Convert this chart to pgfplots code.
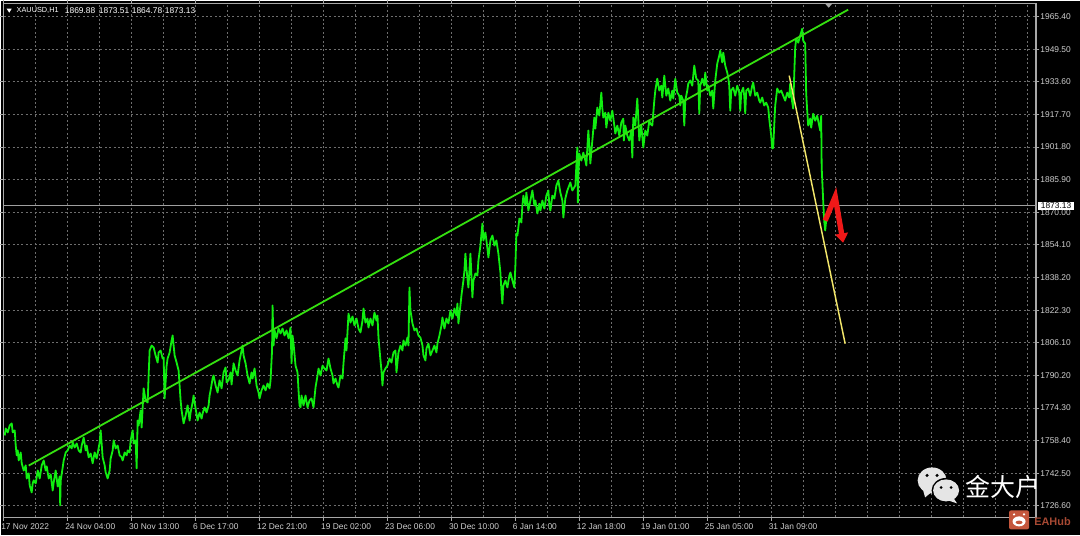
\documentclass[border=0pt]{standalone}
\usepackage{pgfplots}
\pgfplotsset{compat=1.18}
\usepackage{fontspec}
\setmainfont{Liberation Sans}
\newfontfamily\cjk{Noto Sans CJK SC}
\usetikzlibrary{arrows.meta}
\definecolor{price}{HTML}{10EE10}
\definecolor{trend}{HTML}{35E010}
\definecolor{yel}{HTML}{F2E66A}
\definecolor{arrowred}{HTML}{F01818}
\definecolor{gridc}{HTML}{6E6E6E}
\definecolor{frame}{HTML}{A8A8A8}
\definecolor{lab}{HTML}{CFCFCF}
\definecolor{hubred}{HTML}{C4563C}
\newcommand{\chartfont}{\fontsize{6.3}{7}\selectfont}
% hourly closes/swings: x is the bar number, y the price
\pgfplotstableread{
x y
2 1760.9
4 1764.3
8 1762.4
12 1765.8
16 1766.8
18 1762.4
22 1763.4
24 1756.0
26 1751.2
28 1753.6
30 1748.7
34 1752.6
36 1747.3
40 1743.8
44 1746.3
46 1739.9
50 1742.4
52 1736.5
56 1733.1
58 1737.5
60 1739.0
64 1737.5
68 1743.8
72 1739.9
76 1746.3
80 1748.7
84 1743.8
86 1745.8
90 1739.9
94 1741.9
98 1734.0
100 1738.0
104 1743.8
108 1736.0
112 1740.9
113 1726.8
114 1738.9
118 1745.3
120 1748.7
124 1752.6
128 1753.6
132 1756.0
136 1754.6
138 1757.5
142 1755.0
146 1757.0
150 1753.6
154 1752.6
156 1756.0
160 1759.9
164 1753.6
166 1756.0
170 1750.2
174 1752.1
178 1747.3
182 1752.6
186 1749.7
188 1752.1
192 1757.5
194 1763.4
198 1750.2
202 1746.3
204 1742.9
208 1739.9
212 1743.8
214 1749.7
218 1753.6
220 1758.5
224 1754.6
228 1756.0
232 1751.2
236 1750.2
238 1748.7
242 1752.6
246 1751.2
248 1753.6
252 1752.6
254 1758.5
258 1763.4
260 1757.0
264 1758.5
266 1744.8
268 1768.2
270 1765.8
274 1773.1
276 1764.8
280 1783.9
284 1778.0
288 1777.0
290 1790.2
292 1802.4
296 1804.8
300 1803.9
304 1799.9
308 1796.5
310 1801.4
314 1802.4
318 1798.5
320 1799.0
322 1779.0
326 1795.0
328 1798.5
332 1801.4
336 1807.3
338 1809.7
342 1800.0
346 1796.5
350 1792.6
354 1778.0
356 1773.1
360 1766.8
364 1770.7
368 1775.6
372 1768.2
374 1772.1
378 1777.0
380 1780.4
384 1774.1
388 1768.2
392 1772.1
396 1769.2
398 1771.6
402 1774.6
406 1772.1
410 1775.6
412 1780.4
414 1782.9
418 1788.7
420 1790.2
424 1785.3
428 1781.9
432 1787.8
436 1783.9
440 1791.7
444 1794.1
446 1786.8
450 1787.8
454 1791.7
456 1785.8
460 1796.1
464 1792.6
468 1790.2
472 1797.5
476 1802.4
478 1804.8
480 1800.0
484 1796.1
488 1790.2
492 1786.3
496 1791.7
498 1788.7
502 1793.6
506 1785.3
510 1781.9
512 1779.0
516 1782.9
520 1785.3
524 1782.9
528 1786.3
532 1783.9
534 1787.8
537 1802.4
538 1824.4
540 1804.8
542 1812.2
546 1808.3
550 1813.1
554 1810.7
558 1813.1
562 1809.7
566 1812.2
570 1808.3
574 1813.6
576 1796.1
578 1809.7
580 1805.8
584 1795.0
588 1791.7
590 1782.9
592 1775.6
594 1774.6
596 1780.4
600 1775.6
604 1780.4
608 1774.6
612 1778.0
616 1779.0
620 1774.6
624 1784.4
628 1790.2
630 1793.6
634 1790.2
638 1795.0
642 1793.6
646 1792.6
650 1798.5
654 1793.6
658 1790.2
660 1786.3
664 1788.7
668 1785.3
670 1784.3
674 1790.2
678 1788.7
680 1796.1
684 1808.3
686 1802.4
690 1820.4
694 1816.0
698 1819.0
702 1814.6
706 1818.0
710 1813.1
714 1811.2
718 1817.0
720 1822.9
724 1816.0
728 1818.0
730 1813.6
734 1818.0
738 1814.6
742 1820.9
746 1817.0
748 1819.5
750 1808.7
754 1797.5
756 1792.6
758 1785.3
760 1791.7
764 1793.6
768 1795.0
772 1798.5
776 1796.5
780 1801.4
784 1802.4
786 1791.7
790 1801.4
794 1804.8
798 1802.4
800 1807.3
804 1804.8
808 1808.7
810 1804.8
812 1833.1
814 1821.9
818 1815.6
822 1812.2
826 1813.1
830 1809.7
834 1808.7
838 1804.8
840 1800.0
844 1797.5
846 1803.4
850 1805.8
854 1800.0
858 1802.4
862 1804.8
866 1801.4
868 1805.8
872 1809.7
876 1814.6
878 1818.5
882 1813.1
886 1818.0
890 1815.6
894 1821.9
898 1818.0
902 1822.9
906 1819.5
908 1825.3
910 1815.6
914 1824.4
916 1829.2
920 1836.6
922 1841.4
924 1849.7
926 1842.4
930 1833.1
932 1841.4
934 1849.7
936 1839.0
938 1828.3
940 1836.6
944 1840.0
948 1839.0
950 1846.3
954 1853.6
958 1864.4
960 1856.1
964 1860.0
968 1852.2
970 1847.8
974 1856.1
978 1858.5
982 1853.6
986 1856.1
990 1849.7
994 1840.5
996 1831.7
998 1825.3
1000 1834.1
1004 1836.6
1008 1833.1
1012 1839.0
1014 1840.5
1018 1836.6
1022 1833.1
1024 1843.9
1026 1859.5
1028 1858.5
1032 1866.8
1036 1864.9
1038 1873.2
1040 1878.0
1044 1873.2
1046 1879.5
1050 1870.7
1054 1875.6
1058 1880.5
1062 1873.2
1064 1875.6
1068 1869.3
1072 1874.1
1074 1870.7
1078 1875.6
1082 1871.7
1086 1878.0
1090 1880.5
1092 1873.2
1094 1870.7
1098 1878.0
1102 1876.6
1106 1882.9
1110 1885.4
1114 1879.5
1118 1875.6
1120 1867.3
1124 1876.6
1128 1880.5
1134 1884.4
1138 1880.5
1144 1882.9
1146 1892.7
1148 1901.5
1149 1874.6
1150 1887.8
1152 1898.5
1156 1895.1
1160 1899.0
1164 1895.1
1166 1892.7
1170 1909.8
1172 1902.4
1174 1893.7
1178 1904.9
1182 1916.1
1184 1910.7
1188 1921.0
1192 1917.1
1196 1928.3
1198 1920.5
1200 1916.1
1204 1918.5
1206 1911.2
1210 1918.5
1214 1914.6
1218 1919.5
1222 1912.2
1224 1908.3
1228 1912.2
1232 1907.3
1236 1913.7
1240 1915.6
1241 1904.9
1244 1912.2
1248 1907.3
1252 1904.9
1256 1909.8
1258 1896.6
1260 1916.1
1264 1912.2
1268 1925.4
1270 1915.6
1272 1904.9
1276 1912.2
1280 1901.5
1284 1909.8
1288 1907.3
1292 1914.6
1294 1913.2
1298 1912.2
1302 1924.4
1304 1929.3
1308 1935.1
1312 1929.3
1316 1931.7
1318 1925.9
1322 1936.6
1326 1926.8
1330 1930.3
1334 1924.4
1338 1929.3
1340 1925.4
1344 1935.1
1348 1928.3
1352 1926.8
1354 1922.0
1356 1926.8
1360 1924.4
1362 1912.2
1364 1924.4
1368 1929.3
1370 1932.7
1374 1934.2
1378 1931.7
1382 1941.5
1386 1935.1
1390 1934.2
1392 1918.1
1394 1931.7
1398 1935.1
1402 1931.7
1404 1938.1
1408 1929.3
1410 1931.7
1414 1926.8
1418 1929.3
1420 1920.5
1424 1934.2
1428 1942.5
1432 1946.4
1434 1948.8
1438 1943.0
1440 1947.8
1444 1941.5
1448 1938.1
1450 1935.6
1452 1931.7
1454 1919.5
1456 1929.3
1460 1930.7
1464 1926.8
1468 1931.7
1472 1928.3
1474 1919.5
1476 1928.3
1480 1930.7
1482 1926.8
1484 1918.1
1486 1929.3
1490 1930.3
1494 1926.8
1498 1931.7
1500 1933.2
1504 1926.8
1508 1928.3
1512 1924.4
1514 1923.4
1518 1925.9
1522 1922.0
1526 1923.4
1530 1921.0
1532 1915.6
1536 1907.3
1538 1901.0
1540 1901.5
1542 1912.2
1544 1922.0
1548 1930.3
1552 1928.3
1556 1929.3
1560 1926.8
1564 1924.4
1568 1928.3
1572 1925.9
1574 1932.7
1576 1926.8
1580 1920.5
1582 1936.6
1584 1950.3
1586 1954.7
1590 1952.7
1594 1956.1
1598 1959.5
1600 1953.7
1604 1952.2
1606 1927.8
1608 1919.5
1610 1912.2
1614 1915.6
1616 1911.2
1620 1918.0
1624 1914.6
1628 1917.0
1632 1912.2
1634 1909.8
1636 1917.0
1637 1891.7
1640 1875.6
1642 1865.8
1644 1861.0
1646 1865.8
1650 1869.2
}\xau
\begin{document}
\begin{tikzpicture}
\fill[black] (0,0) rectangle (810pt,-401.25pt);
\begin{axis}[
  at={(2.25pt,-387.75pt)}, anchor=south west,
  scale only axis, width=774.75pt, height=385.5pt,
  xmin=0, xmax=2066, ymin=1720.9, ymax=1971.7,
  axis background/.style={fill=black},
  axis line style={frame, line width=.9pt},
  xtick={0,128,256,384,512,640,768,896,1024,1152,1280,1408,1536},
  xticklabels={17 Nov 2022,24 Nov 04:00,30 Nov 13:00,6 Dec 17:00,12 Dec 21:00,19 Dec 02:00,23 Dec 06:00,30 Dec 10:00,6 Jan 14:00,12 Jan 18:00,19 Jan 01:00,25 Jan 05:00,31 Jan 09:00},
  minor xtick={64,192,320,448,576,704,832,960,1088,1216,1344,1472,1600,1664,1728,1792,1856,1920,1984,2048},
  ytick={1726.6,1742.5,1758.4,1774.3,1790.3,1806.2,1822.1,1838.0,1854.0,1869.9,1885.8,1901.7,1917.6,1933.6,1949.5,1965.4},
  yticklabels={1726.60,1742.50,1758.40,1774.30,1790.20,1806.10,1822.30,1838.20,1854.10,1870.00,1885.90,1901.80,1917.70,1933.60,1949.50,1965.40},
  yticklabel pos=right,
  tick align=outside, major tick length=2.5pt, minor tick length=0pt,
  tick style={frame, line width=.6pt},
  xmajorgrids, xminorgrids, ymajorgrids,
  grid style={gridc, line width=.6pt, dash pattern=on 1.5pt off 1.8pt},
  minor grid style={gridc, line width=.6pt, dash pattern=on 1.5pt off 1.8pt},
  x tick label style={font=\chartfont, text=lab, anchor=north west, xshift=-2pt, yshift=-1pt, inner xsep=0pt, inner ysep=1pt},
  y tick label style={font=\chartfont, text=lab, anchor=west, xshift=.6pt, inner xsep=0pt},
]
\addplot[gray!75, line width=.7pt, forget plot] coordinates {(0,1873.13) (2066,1873.13)};
\addplot[price, line width=1.35pt, line join=round, forget plot] table[x=x,y=y] {\xau};
\addplot[trend, line width=1.35pt, forget plot] coordinates {(50,1746.2) (1690,1968.8)};
\addplot[yel, line width=1.1pt, forget plot] coordinates {(1572,1936.6) (1684,1805.7)};
\addplot[arrowred, line width=4pt, line join=miter, forget plot, -{Triangle[length=7pt,width=9.5pt]}] coordinates {(1644,1865.8) (1664,1877.5) (1680,1855.0)};
\end{axis}
\begin{scope}[x=.75pt,y=-.75pt]
% header
\fill[white] (6,8) -- (11,8) -- (8.5,12) -- cycle;
\begin{scope}[every node/.style={font=\chartfont, text=white, anchor=west, inner sep=0pt}]
\node[font=\fontsize{5.5}{7}\selectfont] at (15.7,10) {XAUUSD,H1};
\node at (64,10) {1869.88};
\node at (98,10) {1873.51};
\node at (131,10) {1864.78};
\node at (164,10) {1873.13};
\end{scope}
\fill[gray!70] (825,3) -- (832,3) -- (828.5,7) -- cycle;
% current price box
\node[fill=white, text=black, font=\chartfont, inner xsep=0pt, inner ysep=0pt, minimum width=27pt, minimum height=6.2pt] at (1056,205.3) {1873.13};
% watermark
\fill[white!90!black] (932,480) ellipse (14.5 and 13);
\fill[white!90!black] (923,490) -- (925,497) -- (931,492) -- cycle;
\fill[black] (946,490) ellipse (14.5 and 12.5);
\fill[white!90!black] (946,490) ellipse (13 and 11);
\fill[white!90!black] (953,497) -- (957,503) -- (948,500) -- cycle;
\fill[black] (927,475) circle (1.7) (937,475) circle (1.7) (941,487) circle (1.5) (951,487) circle (1.5);
\node[text=white, font=\cjk\fontsize{18.75}{20}\selectfont, inner sep=0pt] at (1003,487) {金大户};
\fill[hubred, rounded corners=1.5pt] (1009,510) rectangle (1029,529);
\fill[white] (1019,521) ellipse (6.5 and 5);
\fill[white] (1014,514) circle (1.2) (1024,514) circle (1.2);
\fill[hubred] (1019,522) ellipse (3.5 and 1.8);
\node[text=hubred!85!black, font=\bfseries\fontsize{8.2}{9}\selectfont, anchor=west, inner sep=0pt] at (1034,521) {EAHub};
\end{scope}
\end{tikzpicture}
\end{document}
